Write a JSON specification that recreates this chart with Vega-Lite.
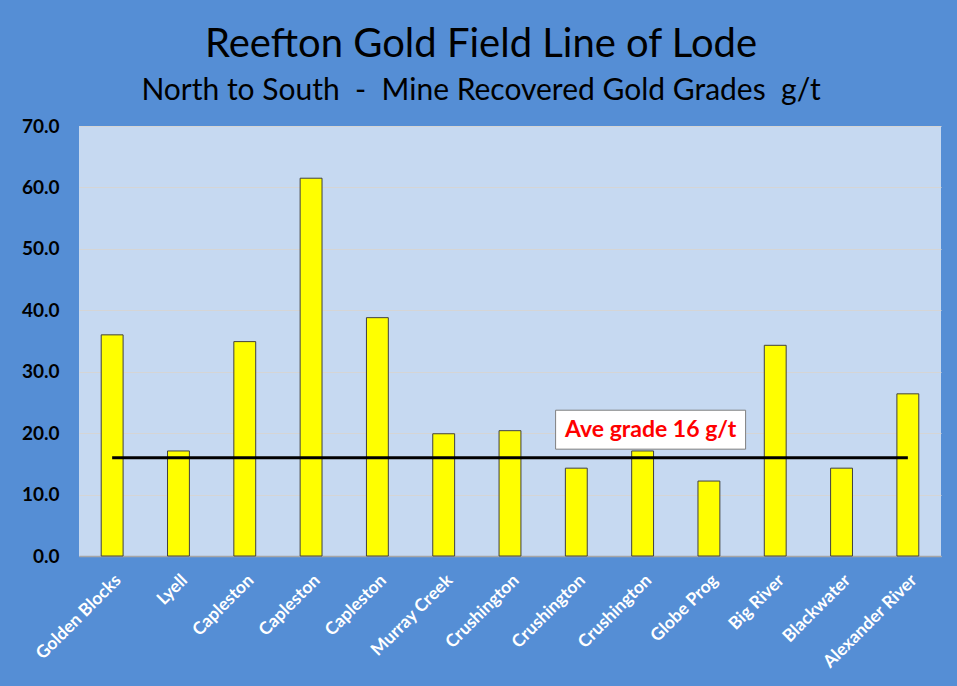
{
  "$schema": "https://vega.github.io/schema/vega-lite/v6.json",
  "width": 862,
  "height": 430,
  "autosize": {"type": "none"},
  "padding": {"left": 79, "top": 126, "right": 16, "bottom": 130},
  "background": "#558ED5",
  "title": {
    "text": "Reefton Gold Field Line of Lode",
    "subtitle": "North to South \u00a0-\u00a0 Mine Recovered Gold Grades \u00a0g/t",
    "anchor": "middle",
    "dx": -29,
    "offset": 11,
    "font": "Lato",
    "fontSize": 40,
    "fontWeight": "normal",
    "color": "#000000",
    "subtitleFont": "Lato",
    "subtitleFontSize": 30,
    "subtitleColor": "#000000",
    "subtitlePadding": 11
  },
  "config": {
    "view": {"fill": "#C6D9F1", "stroke": null},
    "axis": {"labelFont": "Lato", "labelFontWeight": "bold", "ticks": false, "titleFontSize": 0}
  },
  "datasets": {
    "grades": [
      {"site": "01|Golden Blocks", "grade": 36.0},
      {"site": "02|Lyell", "grade": 17.1},
      {"site": "03|Capleston", "grade": 34.9},
      {"site": "04|Capleston", "grade": 61.5},
      {"site": "05|Capleston", "grade": 38.8},
      {"site": "06|Murray Creek", "grade": 19.9},
      {"site": "07|Crushington", "grade": 20.4},
      {"site": "08|Crushington", "grade": 14.3},
      {"site": "09|Crushington", "grade": 17.1},
      {"site": "10|Globe Prog", "grade": 12.2},
      {"site": "11|Big River", "grade": 34.3},
      {"site": "12|Blackwater", "grade": 14.3},
      {"site": "13|Alexander River", "grade": 26.4}
    ],
    "average": [
      {"from": "01|Golden Blocks", "to": "13|Alexander River", "at": "09|Crushington", "grade": 16, "label": "Ave grade 16 g/t"}
    ]
  },
  "layer": [
    {
      "data": {"name": "grades"},
      "mark": {"type": "bar", "color": "#FFFF00", "stroke": "#404040", "strokeWidth": 1},
      "encoding": {
        "x": {
          "field": "site",
          "type": "ordinal",
          "scale": {"paddingInner": 0.67, "paddingOuter": 0.335},
          "axis": {
            "title": null,
            "labelAngle": -45,
            "labelColor": "#FFFFFF",
            "labelFontSize": 17.5,
            "labelPadding": 15,
            "labelExpr": "split(datum.label, '|')[1]",
            "domainColor": "#A6A6A6",
            "domainWidth": 1.5
          }
        },
        "y": {
          "field": "grade",
          "type": "quantitative",
          "scale": {"domain": [0, 70]},
          "axis": {
            "title": null,
            "values": [0, 10, 20, 30, 40, 50, 60, 70],
            "format": ".1f",
            "labelColor": "#000000",
            "labelFontSize": 19,
            "labelPadding": 20,
            "domain": false,
            "grid": true,
            "gridColor": "#D5D5D5",
            "gridWidth": 1
          }
        }
      }
    },
    {
      "data": {"name": "average"},
      "mark": {"type": "rule", "color": "#000000", "strokeWidth": 3},
      "encoding": {
        "x": {"field": "from", "type": "ordinal"},
        "x2": {"field": "to"},
        "y": {"field": "grade", "type": "quantitative"}
      }
    },
    {
      "data": {"name": "average"},
      "mark": {
        "type": "point",
        "shape": "M-0.916,-0.5 L1.084,-0.5 L1.084,-0.09 L-0.916,-0.09 Z",
        "size": 36100,
        "filled": true,
        "fill": "#FFFFFF",
        "stroke": "#7F7F7F",
        "strokeWidth": 1,
        "opacity": 1
      },
      "encoding": {
        "x": {"field": "at", "type": "ordinal"},
        "y": {"field": "grade", "type": "quantitative"}
      }
    },
    {
      "data": {"name": "average"},
      "mark": {
        "type": "text",
        "font": "Lato",
        "fontWeight": "bold",
        "fontSize": 23,
        "color": "#FF0000",
        "dx": 8,
        "dy": -28,
        "align": "center",
        "baseline": "middle"
      },
      "encoding": {
        "x": {"field": "at", "type": "ordinal"},
        "y": {"field": "grade", "type": "quantitative"},
        "text": {"field": "label"}
      }
    }
  ]
}
